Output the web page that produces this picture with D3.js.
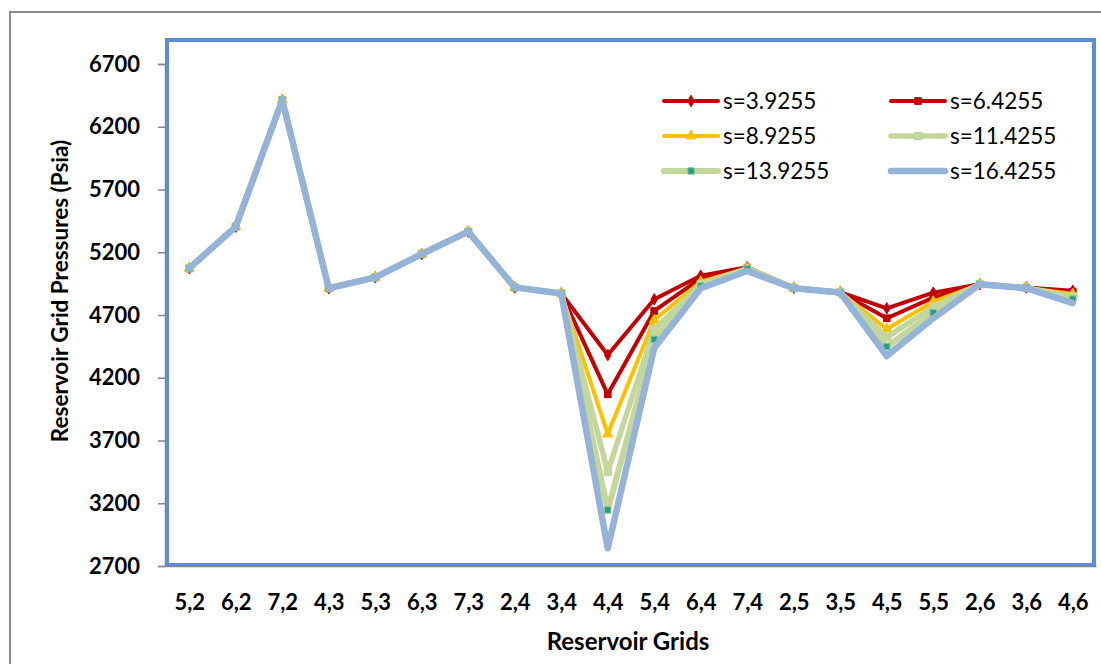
<!DOCTYPE html>
<html>
<head>
<meta charset="utf-8">
<script src="https://cdn.jsdelivr.net/npm/d3@7"></script>
<style>
  html, body { margin: 0; padding: 0; background: #fff; }
  svg { display: block; }
  text { font-family: Lato, "Open Sans", sans-serif; fill: #000; }
</style>
</head>
<body>
<script>
// Grid block labels (i,j) along the x axis
const categories = ["5,2","6,2","7,2","4,3","5,3","6,3","7,3","2,4","3,4","4,4",
                    "5,4","6,4","7,4","2,5","3,5","4,5","5,5","2,6","3,6","4,6"];

// Pressures shared by every skin factor up to grid 3,4
const commonHead = [5072, 5404, 6413, 4913, 5000, 5186, 5364, 4920, 4872];

// Remaining pressures (grids 4,4 .. 4,6) per skin factor
const s39255  = [4381, 4825, 5013, 5080, 4918, 4882, 4753, 4878, 4945, 4920, 4893];
const s64255  = [4068, 4732, 4992, 5075, 4917, 4881, 4674, 4838, 4945, 4918, 4886];
const s89255  = [3752, 4660, 4965, 5072, 4916, 4880, 4588, 4806, 4945, 4917, 4867];
const s114255 = [3451, 4583, 4945, 5070, 4915, 4880, 4522, 4766, 4945, 4916, 4846];
const s139255 = [3146, 4506, 4931, 5067, 4914, 4880, 4447, 4718, 4945, 4915, 4827];
const s164255 = [2841, 4437, 4913, 5051, 4913, 4879, 4373, 4674, 4945, 4913, 4795];

const seriesNames = ["s=3.9255","s=6.4255","s=8.9255","s=11.4255","s=13.9255","s=16.4255"];

const yTicks = [2700, 3200, 3700, 4200, 4700, 5200, 5700, 6200, 6700];

const series = [
  { name: seriesNames[0], tail: s39255,  color: "#C00000", width: 4,   marker: "diamond",  mfill: "#C00000", mstroke: "#C00000", msize: 38 },
  { name: seriesNames[1], tail: s64255,  color: "#C00000", width: 4,   marker: "square",   mfill: "#C00000", mstroke: "#C00000", msize: 45 },
  { name: seriesNames[2], tail: s89255,  color: "#FFC000", width: 4,   marker: "triangle", mfill: "#FFC000", mstroke: "#FFC000", msize: 45 },
  { name: seriesNames[3], tail: s114255, color: "#C3D69B", width: 5.5, marker: "square",   mfill: "#C3D69B", mstroke: "#C3D69B", msize: 55 },
  { name: seriesNames[4], tail: s139255, color: "#C3D69B", width: 6,   marker: "square",   mfill: "#2A9A8C", mstroke: "#7CC48A", msize: 40 },
  { name: seriesNames[5], tail: s164255, color: "#95B3D7", width: 6.5, marker: "circle",   mfill: "#95B3D7", mstroke: "#95B3D7", msize: 14 }
].map(s => ({ ...s, values: commonHead.concat(s.tail) }));

const W = 1101, H = 664;
const plot = { left: 166, right: 1096, top: 40, bottom: 566 };

const svg = d3.select("body").append("svg").attr("width", W).attr("height", H);

// Outer chart frame
svg.append("rect")
  .attr("x", 10).attr("y", 12).attr("width", W + 20).attr("height", H + 20)
  .attr("fill", "#fff").attr("stroke", "#8C8C8C").attr("stroke-width", 2);

const x = d3.scalePoint().domain(categories).range([plot.left, plot.right]).padding(0.5);
const y = d3.scaleLinear().domain([2700, 6700]).range([566, 64]);

// Plot-area border
svg.append("rect")
  .attr("x", plot.left + 1).attr("y", plot.top)
  .attr("width", plot.right - plot.left - 3).attr("height", plot.bottom - plot.top - 1)
  .attr("fill", "none").attr("stroke", "#5B8ED6").attr("stroke-width", 4);

// Y axis
const yAxis = svg.append("g").attr("transform", `translate(${plot.left - 1},0)`)
  .call(d3.axisLeft(y).tickValues(yTicks).tickSize(7).tickPadding(18).tickFormat(d3.format("d")));
yAxis.select(".domain").attr("stroke", "#868686").attr("stroke-width", 1.5);
yAxis.selectAll(".tick line").attr("stroke", "#868686").attr("stroke-width", 1.5);
yAxis.selectAll(".tick text").attr("font-size", 22).attr("font-weight", "bold")
  .attr("font-family", "Lato, sans-serif").attr("fill", "#000");

// X axis
const xAxis = svg.append("g").attr("transform", `translate(0,${plot.bottom})`)
  .call(d3.axisBottom(x).tickSize(0).tickPadding(28));
xAxis.select(".domain").attr("stroke", "#868686").attr("stroke-width", 1.5);
xAxis.selectAll(".tick text").attr("font-size", 22).attr("font-weight", "bold")
  .attr("font-family", "Lato, sans-serif").attr("fill", "#000");

// Axis titles
svg.append("text")
  .attr("x", 628).attr("y", 650)
  .attr("text-anchor", "middle").attr("font-size", 24).attr("font-weight", "bold")
  .text("Reservoir Grids");

svg.append("text")
  .attr("transform", "translate(68,291) rotate(-90)")
  .attr("text-anchor", "middle").attr("font-size", 22.5).attr("font-weight", "bold")
  .text("Reservoir Grid Pressures (Psia)");

const symbolType = { diamond: d3.symbolDiamond, square: d3.symbolSquare, triangle: d3.symbolTriangle, circle: d3.symbolCircle };

const line = d3.line()
  .x((d, i) => x(categories[i]))
  .y(d => y(d));

// Series lines with markers, later skin factors drawn on top
series.forEach(s => {
  const g = svg.append("g");
  g.append("path")
    .datum(s.values)
    .attr("d", line)
    .attr("fill", "none")
    .attr("stroke", s.color)
    .attr("stroke-width", s.width)
    .attr("stroke-linejoin", "round")
    .attr("stroke-linecap", "round");
  g.selectAll("path.m")
    .data(s.values)
    .join("path")
    .attr("class", "m")
    .attr("transform", (d, i) => `translate(${x(categories[i])},${y(d)})`)
    .attr("d", d3.symbol().type(symbolType[s.marker]).size(s.msize))
    .attr("fill", s.mfill)
    .attr("stroke", s.mstroke)
    .attr("stroke-width", 1);
});

// Legend: two columns, three rows
const legend = svg.append("g");
series.forEach((s, i) => {
  const col = i % 2, row = Math.floor(i / 2);
  const lx = col === 0 ? 664 : 891;
  const ly = 101 + row * 35;
  const item = legend.append("g").attr("transform", `translate(${lx},${ly})`);
  item.append("line")
    .attr("x1", 0).attr("x2", 54).attr("y1", 0).attr("y2", 0)
    .attr("stroke", s.color).attr("stroke-width", s.width)
    .attr("stroke-linecap", "round");
  item.append("path")
    .attr("transform", "translate(27,0)")
    .attr("d", d3.symbol().type(symbolType[s.marker]).size(s.msize))
    .attr("fill", s.mfill).attr("stroke", s.mstroke).attr("stroke-width", 1);
  item.append("text")
    .attr("x", 59).attr("y", 0).attr("dy", "0.36em")
    .attr("font-size", 22.5)
    .text(s.name);
});
</script>
</body>
</html>
